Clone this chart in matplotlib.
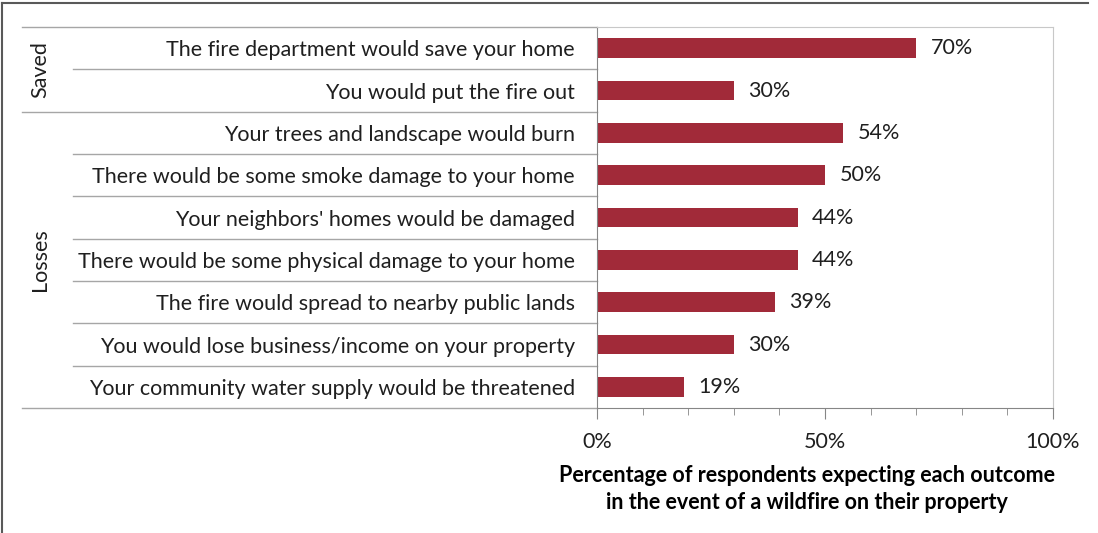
import matplotlib.pyplot as plt
from matplotlib.lines import Line2D

plt.rcParams['font.family'] = ['Lato', 'DejaVu Sans']

categories = [
    "The fire department would save your home",
    "You would put the fire out",
    "Your trees and landscape would burn",
    "There would be some smoke damage to your home",
    "Your neighbors' homes would be damaged",
    "There would be some physical damage to your home",
    "The fire would spread to nearby public lands",
    "You would lose business/income on your property",
    "Your community water supply would be threatened",
]
values = [70, 30, 54, 50, 44, 44, 39, 30, 19]
group_names = ["Saved", "Losses"]
group_sizes = [2, 7]

bar_color = '#A12A39'
text_color = '#1F1F1F'
fs = 15.5

fig = plt.figure(figsize=(10.98, 5.33), dpi=100)
ax = fig.add_axes([597 / 1098, 1 - 408 / 533, 456 / 1098, 381 / 533])

y = list(range(len(categories)))
ax.barh(y, values, height=0.47, color=bar_color)
for yi, v in zip(y, values):
    ax.text(v + 3.2, yi, f"{v}%", va='center', ha='left', fontsize=fs, color=text_color)

ax.set_xlim(0, 100)
ax.set_ylim(len(categories) - 0.5, -0.5)
ax.set_xticks([0, 50, 100])
ax.set_xticklabels(['0%', '50%', '100%'], fontsize=fs, color=text_color)
ax.set_xticks(range(0, 101, 10), minor=True)
ax.tick_params(axis='x', which='major', length=8, color='#868686', pad=9)
ax.tick_params(axis='x', which='minor', length=5, color='#868686')
ax.set_yticks(y)
ax.set_yticklabels(categories, fontsize=fs, color=text_color)
ax.tick_params(axis='y', length=0, pad=16)

for side in ['left', 'bottom']:
    ax.spines[side].set_color('#868686')
for side in ['top', 'right']:
    ax.spines[side].set_color('#C8C8C8')

# separator lines in the label area
tr = ax.get_yaxis_transform()
inner_x0 = (73 - 597) / 456
outer_x0 = (22 - 597) / 456
start = 0
bounds = [-0.5]
for size in group_sizes:
    for k in range(1, size):
        yy = start + k - 0.5
        ax.plot([inner_x0, 0], [yy, yy], transform=tr, color='#A6A6A6', lw=1, clip_on=False)
    start += size
    bounds.append(start - 0.5)
for yy in bounds:
    ax.plot([outer_x0, 0], [yy, yy], transform=tr, color='#A6A6A6', lw=1, clip_on=False)

# group labels
start = 0
for name, size in zip(group_names, group_sizes):
    mid = start + (size - 1) / 2
    ax.text((40 - 597) / 456, mid, name, transform=tr, rotation=90,
            ha='center', va='center', fontsize=fs, color=text_color)
    start += size

fig.text(807 / 1098, 1 - 489 / 533,
         "Percentage of respondents expecting each outcome\nin the event of a wildfire on their property",
         ha='center', va='center', fontsize=fs, fontweight='bold',
         color='#000000', linespacing=1.35)

# outer frame
fig.add_artist(Line2D([2 / 1098, 1088 / 1098], [1 - 3 / 533, 1 - 3 / 533],
                      transform=fig.transFigure, color='#595959', lw=1.5))
fig.add_artist(Line2D([2 / 1098, 2 / 1098], [0, 1 - 3 / 533],
                      transform=fig.transFigure, color='#595959', lw=1.5))

fig.savefig('out.png', dpi=100)
